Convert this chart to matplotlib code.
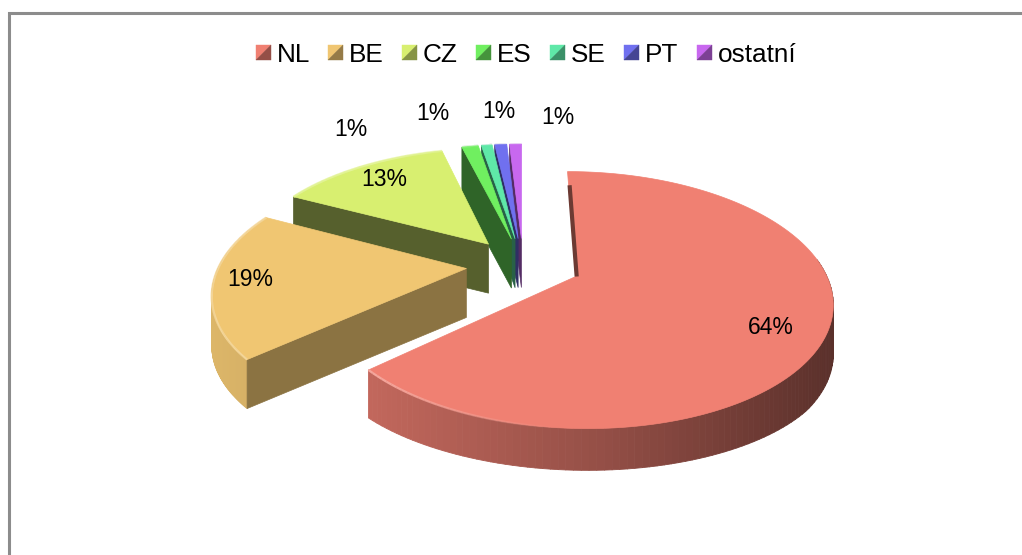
import numpy as np
import matplotlib
matplotlib.use("Agg")
import matplotlib.pyplot as plt
from matplotlib.collections import PolyCollection, LineCollection
from matplotlib.legend_handler import HandlerBase
from matplotlib.patches import Patch, Polygon

# ---- data ----
categories = ["NL", "BE", "CZ", "ES", "SE", "PT", "ostatní"]
shares = [63.5, 19.0, 13.45, 1.3, 0.85, 0.95, 0.95]

# ---- style and layout ----
colors = ["#f08072", "#f0c672", "#d8ef70", "#70ef60", "#5fe8a8", "#7070ef", "#c868ef"]
wall_factor = [0.45, 0.58, 0.40, 0.42, 0.42, 0.42, 0.42]
label_xy = [(771, 328), (250, 279), (384, 180), (351, 130), (433, 114), (499, 111), (558, 118)]
CX, CY, RX, RY, K = 523, 265, 247, 120, 0.18
EXPLODE = 0.23

plt.rcParams["font.family"] = ["Liberation Sans", "DejaVu Sans"]
fig = plt.figure(figsize=(10.22, 5.55), dpi=100, facecolor="white")
ax = fig.add_axes([0, 0, 1, 1])
ax.set_xlim(0, 1022)
ax.set_ylim(555, 0)
ax.axis("off")


def project(u, v, drop=0.0):
    w = 1 + K * np.asarray(v)
    return np.column_stack([CX + RX * np.asarray(u) / w,
                            CY - RY * np.asarray(v) / w + drop])


def wall_drop(v):
    return np.interp(v, [-1.3, -0.7], [38, 49])


def shade(color, f):
    return tuple(np.array(matplotlib.colors.to_rgb(color)) * f)


def rim_factor(x):
    return np.interp(x, [210, 380, 600, 830], [0.92, 0.80, 0.62, 0.38])


# ---- frame: only the top and left edges show ----
ax.plot([9, 9, 1022], [555, 13, 13], color="#8c8c8c", lw=2.2, solid_joinstyle="miter", zorder=1)

# ---- slices, back to front ----
edges = np.cumsum([0] + shares) / sum(shares) * 2 * np.pi
order = [6, 5, 4, 3, 2, 1, 0]
for i, idx in enumerate(order):
    a0, a1 = edges[idx], edges[idx + 1]
    mid = (a0 + a1) / 2
    ou, ov = EXPLODE * np.sin(mid), EXPLODE * np.cos(mid)
    t = np.linspace(a0, a1, 160)
    ru, rv = ou + np.sin(t), ov + np.cos(t)
    top_rim = project(ru, rv)
    low_rim = project(ru, rv, wall_drop(rv))
    apex = project([ou], [ov])
    apex_low = project([ou], [ov], wall_drop(np.array([ov])))
    z = 10 + i * 4
    col = colors[idx]

    # outer wall: only the part of the rim that faces the viewer
    quads = [np.array([top_rim[j], top_rim[j + 1], low_rim[j + 1], low_rim[j]])
             for j in range(len(t) - 1) if np.cos(t[j]) < 0.15]
    if quads:
        face = [shade(col, rim_factor(q[:, 0].mean())) for q in quads]
        ax.add_collection(PolyCollection(quads, facecolors=face, edgecolors=face, linewidths=0.6, zorder=z))

    # only the first cut face looks towards the viewer
    if idx != 0:
        wall = shade(col, wall_factor[idx])
        ax.add_patch(Polygon([apex[0], top_rim[0], low_rim[0], apex_low[0]],
                             facecolor=wall, edgecolor=wall, lw=0.5, zorder=z + 1))

    ax.add_patch(Polygon(np.vstack([apex, top_rim]), facecolor=col, edgecolor=col, lw=0.5, zorder=z + 2))

    # pale bevel along the rim, strongest on the lit left side
    segs = np.stack([top_rim[:-1], top_rim[1:]], axis=1)
    glow = np.clip((560 - segs[:, :, 0].mean(axis=1)) / 180, 0, 1)
    lc = [(*(np.array(matplotlib.colors.to_rgb(col)) * 0.7 + 0.3), g) for g in glow]
    ax.add_collection(LineCollection(segs, colors=lc, linewidths=1.6, zorder=z + 3))

    if idx == 0:  # dark sliver beside the first cut edge of the big slice
        p = apex[0] + (top_rim[0] - apex[0]) * np.array([[0.02], [0.85]])
        ax.plot(p[:, 0] + 1, p[:, 1], color=shade(col, 0.45), lw=3, zorder=z + 4)

# ---- percent labels ----
for x_y, val in zip(label_xy, shares):
    ax.text(*x_y, f"{val / sum(shares) * 100:.0f}%", fontsize=16.5, color="black",
            ha="center", va="center", zorder=60)


# ---- legend with two-tone square keys ----
class SquareKey(HandlerBase):
    def create_artists(self, legend, orig, x0, y0, width, height, fontsize, trans):
        s = 15.0 * 0.72
        y = y0 + (height - s) / 2
        c = orig.get_facecolor()
        light = Polygon([(x0, y), (x0, y + s), (x0 + s, y + s)], facecolor=c, edgecolor=c, lw=0.3, transform=trans)
        dark = Polygon([(x0, y), (x0 + s, y), (x0 + s, y + s)], facecolor=shade(c[:3], 0.62),
                       edgecolor=shade(c[:3], 0.62), lw=0.3, transform=trans)
        return [light, dark]


handles = [Patch(facecolor=c, label=n) for c, n in zip(colors, categories)]
ax.legend(handles=handles, handler_map={Patch: SquareKey()}, ncol=len(categories),
          loc="center", bbox_to_anchor=(526, 55), bbox_transform=ax.transData,
          frameon=False, fontsize=18.8, handlelength=0.6, handletextpad=0.2,
          columnspacing=0.7, borderpad=0, labelspacing=0)

fig.savefig("out.png", dpi=100, facecolor="white")
